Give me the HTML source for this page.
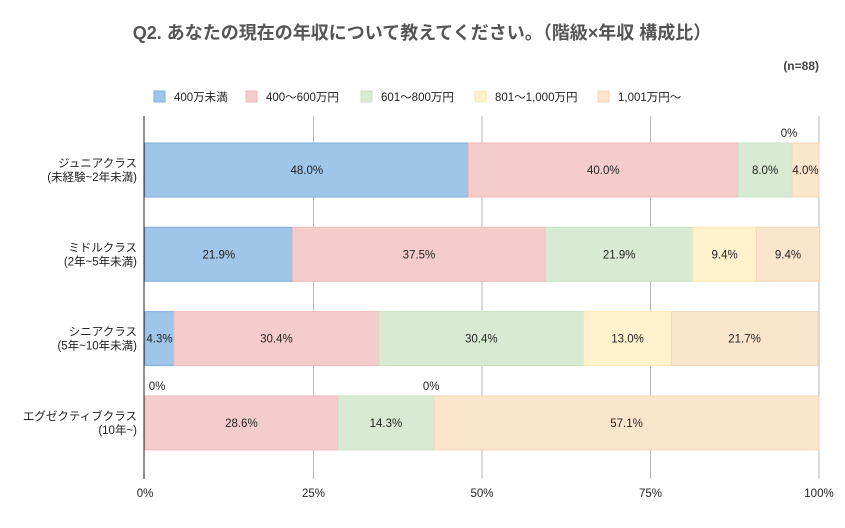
<!DOCTYPE html>
<html><head><meta charset="utf-8"><style>
body{margin:0;background:#fff;font-family:"Liberation Sans","Noto Sans CJK JP",sans-serif;}
svg text{font-family:"Liberation Sans","Noto Sans CJK JP",sans-serif;}
</style></head><body>
<svg id="c" width="845" height="523" xmlns="http://www.w3.org/2000/svg">
<rect width="845" height="523" fill="#fff"/>
<text x="422" y="39" text-anchor="middle" font-size="18" font-weight="bold" fill="#555">Q2. あなたの現在の年収について教えてください。（階級×年収 構成比）</text>
<text x="819" y="70" text-anchor="end" font-size="12" font-weight="bold" fill="#444">(n=88)</text>
<g id="legend"></g>
<g id="grid"></g>
<g id="bars"></g>
<g id="ylabels"></g>
</svg>
<script>
const categories=["ジュニアクラス|(未経験~2年未満)","ミドルクラス|(2年~5年未満)","シニアクラス|(5年~10年未満)","エグゼクティブクラス|(10年~)"];
const seriesNames=["400万未満","400～600万円","601～800万円","801～1,000万円","1,001万円～"];
const s1=[48.0,21.9,4.3,0];
const s2=[40.0,37.5,30.4,28.6];
const s3=[8.0,21.9,30.4,14.3];
const s4=[0,9.4,13.0,0];
const s5=[4.0,9.4,21.7,57.1];
const ticks=["0%","25%","50%","75%","100%"];
const series=[s1,s2,s3,s4,s5];
const fills=["#9fc5e8","#f4cccc","#d9ead3","#fff2cc","#fce5cd"];
const strokes=["#7fb0e0","#f0b8b8","#c9e0c0","#fbe8b0","#f6d6b6"];
const NS="http://www.w3.org/2000/svg";
const X0=145,X1=819,YT=116,YB=479;
const x=v=>X0+(X1-X0)*v/100;
const rowC=i=>170+i*84.3, BH=54;
function mk(t,a,p){const e=document.createElementNS(NS,t);for(const k in a)e.setAttribute(k,a[k]);(p||document.getElementById('c')).appendChild(e);return e;}
const grid=document.getElementById('grid'),bars=document.getElementById('bars'),yl=document.getElementById('ylabels'),lg=document.getElementById('legend');
const lx=[154,246,361,475,598];
seriesNames.forEach((n,i)=>{
 const r=mk('rect',{x:lx[i],y:91,width:11,height:11,fill:fills[i],stroke:strokes[i]},lg);
 
 
 const t=mk('text',{x:lx[i]+20,y:101,'font-size':11.5,fill:'#222'},lg);t.textContent=n;
 
 
});
ticks.forEach((tk,i)=>{
 const v=i*25;
 if(i>0){const l=mk('line',{x1:x(v),x2:x(v),y1:YT,y2:YB,stroke:'#b7b7b7','stroke-width':1},grid);
 
 }
 const t=mk('text',{x:x(v),y:497,'text-anchor':'middle','font-size':11.5,fill:'#222'},grid);t.textContent=tk;
 
 
});
categories.forEach((c,ci)=>{
 let acc=0;const yc=rowC(ci),yt=yc-BH/2;
 series.forEach((s,si)=>{
  const v=s[ci];
  if(v>0){
   const r=mk('rect',{x:x(acc),y:yt,width:x(acc+v)-x(acc),height:BH,fill:fills[si],stroke:strokes[si],'stroke-width':1},bars);
   
   
   const t=mk('text',{x:(x(acc)+x(acc+v))/2,y:yc+4,'text-anchor':'middle','font-size':11.5,fill:'#222'},bars);
   t.textContent=v.toFixed(1)+'%';
   
   
  } else {
   const t=mk('text',{x:Math.max(x(acc)-3,X0+12),y:yt-6,'text-anchor':'middle','font-size':11.5,fill:'#222'},bars);
   t.textContent='0%';
   
   
  }
  acc+=v;
 });
 const parts=c.split('|');
 parts.forEach((p,pi)=>{
  const t=mk('text',{x:137,y:yc-3+pi*14,'text-anchor':'end','font-size':11.5,fill:'#222'},yl);
  t.textContent=p;
  
  
 });
});
const ax=mk('line',{x1:X0-1,x2:X0-1,y1:YT,y2:YB,stroke:'#222','stroke-width':1});


</script>
</body></html>
